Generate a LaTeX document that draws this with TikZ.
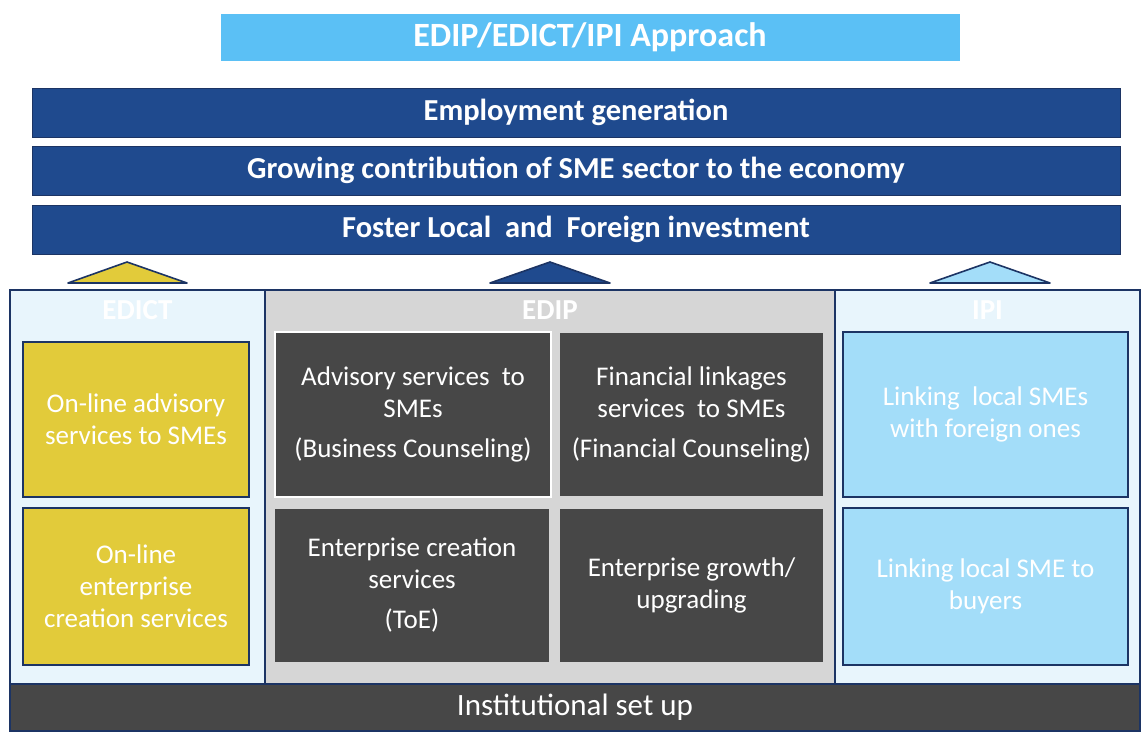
\documentclass[tikz,border=0pt]{standalone}
\usepackage{fontspec}
\setmainfont{Carlito}
\usetikzlibrary{positioning,shadows}

\definecolor{skyblue}{HTML}{5BC0F5}
\definecolor{navy}{HTML}{1F4A8E}
\definecolor{navyline}{HTML}{1C3464}
\definecolor{mustard}{HTML}{E2CB3A}
\definecolor{charcoal}{HTML}{474747}
\definecolor{paleblue}{HTML}{A3DDF9}
\definecolor{icyblue}{HTML}{E8F5FC}
\definecolor{lightgrey}{HTML}{D6D6D6}

\begin{document}
\begin{tikzpicture}[x=1pt, y=-1pt, inner sep=0pt, outer sep=0pt,
  every node/.style={text=white, align=center},
  approach/.style={fill=skyblue, draw=white, line width=3pt, drop shadow={opacity=0.3},
    minimum width=742pt, minimum height=50pt, font=\fontsize{34}{34}\selectfont\bfseries},
  goal/.style={fill=navy, draw=navyline, line width=0.8pt, minimum width=1088pt,
    minimum height=49pt, font=\fontsize{30.5}{30.5}\selectfont\bfseries},
  column/.style={draw=navyline, line width=1.6pt, minimum height=395pt},
  head/.style={font=\fontsize{29}{29}\selectfont\bfseries},
  tile/.style={draw=navyline, line width=1.6pt, font=\fontsize{27}{32}\selectfont},
  edicttile/.style={tile, fill=mustard, minimum width=226pt},
  ediptile/.style={tile, fill=charcoal, draw=lightgrey},
  ipitile/.style={tile, fill=paleblue, minimum width=285pt},
  arrowhead/.style={draw=navyline, line width=1.6pt, line join=round}]
\useasboundingbox (0,0) rectangle (1146,731);
% title
\node[approach] (title) at (590,37) {EDIP/EDICT/IPI Approach};
%
\node[goal] (g1) at (576,112.5) {Employment generation};
\node[goal] (g2) at (576,170.5) {Growing contribution of SME sector to the economy};
\node[goal] (g3) at (576,229.5) {Foster Local~ and~ Foreign investment};
%
\draw[arrowhead, fill=mustard]  (68,283)  -- (127,262) -- (187,283) -- cycle;
\draw[arrowhead, fill=navy]     (490,283) -- (550,262) -- (610,283) -- cycle;
\draw[arrowhead, fill=paleblue] (930,283) -- (990,262) -- (1050,283) -- cycle;
% columns
\node[column, fill=icyblue, minimum width=255pt]   (edict) at (137.5,487.5) {};
\node[column, fill=lightgrey, minimum width=570pt] (edip)  at (550,487.5) {};
\node[column, fill=icyblue, minimum width=305pt]   (ipi)   at (987.5,487.5) {};
\node[head] at (edict.north|-0,310) {EDICT};
\node[head] at (edip.north|-0,310)  {EDIP};
\node[head] at (ipi.north|-0,310)   {IPI};
%
\node[edicttile, minimum height=155pt] (e1) at (136,419.5) {On-line advisory\\services to SMEs};
\node[edicttile, minimum height=157pt] (e2) at (136,586.5) {On-line\\enterprise\\creation services};
%
\node[ediptile, draw=white, minimum width=276pt, minimum height=165pt] (d1) at (413,414.5)
  {Advisory services~ to\\SMEs\\[8pt](Business Counseling)};
\node[ediptile, minimum width=265pt, minimum height=165pt] (d2) at (691.5,414.5)
  {Financial linkages\\services~ to SMEs\\[8pt](Financial Counseling)};
\node[ediptile, minimum width=276pt, minimum height=155pt] (d3) at (412,585.5)
  {Enterprise creation\\services\\[8pt](ToE)};
\node[ediptile, minimum width=265pt, minimum height=155pt] (d4) at (691.5,585.5)
  {Enterprise growth/\\upgrading};
%
\node[ipitile, minimum height=165pt] (i1) at (985.5,414.5) {Linking~ local SMEs\\with foreign ones};
\node[ipitile, minimum height=157pt] (i2) at (985.5,586.5) {Linking local SME to\\buyers};
% base
\node[fill=charcoal, draw=navyline, line width=1.6pt, minimum width=1130pt, minimum height=47pt,
  font=\fontsize{31}{31}\selectfont] (base) at (575,707.5) {Institutional set up};
\end{tikzpicture}
\end{document}
